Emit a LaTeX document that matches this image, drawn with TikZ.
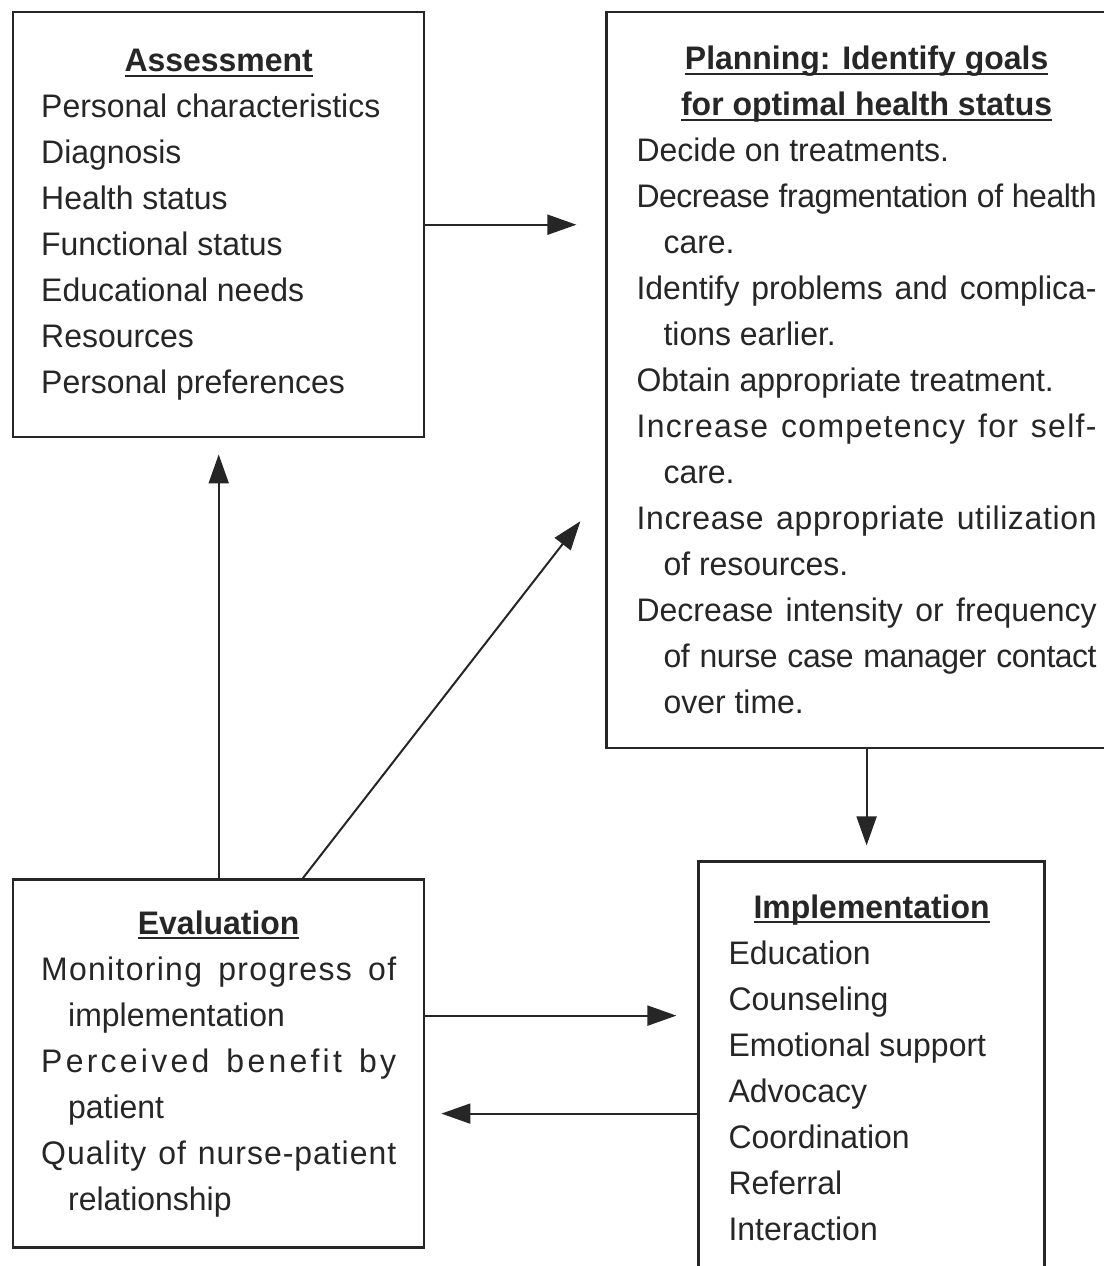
\documentclass[tikz,border=0pt]{standalone}
\usepackage{fontspec}
\setmainfont{Liberation Sans}[FakeStretch=0.98]
\usepackage{tikz}
\usetikzlibrary{positioning,arrows.meta,calc}
\definecolor{ink}{HTML}{262626}
\setlength{\parindent}{0pt}
\setlength{\parskip}{0pt}
\newsavebox{\headbox}
\newcommand{\headline}[1]{\leavevmode\sbox{\headbox}{#1}\rlap{\rule[-2.5pt]{\wd\headbox}{1pt}}\usebox{\headbox}}
\newcommand{\heading}[1]{{\centering\bfseries\headline{#1}\par}}
\newcommand{\hitem}[1]{\par\noindent\hangindent=13.5pt\hangafter=1 #1\par}
\newcommand{\spread}[2]{{\addfontfeature{LetterSpace=#1}#2}}
\tikzset{
  stage/.style   ={draw=ink, line width=1.2pt, text=ink, inner xsep=#1, inner ysep=0pt,
                   align=justify, font=\fontsize{16.3pt}{23pt}\selectfont},
  stage/.default =14pt,
  flowarr/.style ={-{Triangle[length=14.5pt,width=10pt]}, line width=1pt, draw=ink},
}

\begin{document}
\begin{tikzpicture}
\useasboundingbox (0,0) rectangle (552pt,-633pt);
\node[stage, anchor=north west, minimum width=205.5pt, text width=177.5pt, minimum height=212.5pt] (assess) at (6pt,-5.5pt) {%
\heading{Assessment}
\hitem{Personal characteristics}
\hitem{Diagnosis}
\hitem{Health status}
\hitem{Functional status}
\hitem{Educational needs}
\hitem{Resources}
\hitem{Personal preferences}};
\node[stage=15pt, right=90pt of assess.north east, anchor=north west, minimum width=260pt, text width=230pt, minimum height=368pt] (plan) {%
\heading{Planning: Identify goals}
\heading{for optimal health status}
\hitem{Decide on treatments.}
\hitem{\spread{-1.5}{Decrease fragmentation of health}\linebreak care.}
\hitem{Identify problems and complica-\linebreak tions earlier.}
\hitem{Obtain appropriate treatment.}
\hitem{\spread{4}{Increase competency for self-}\linebreak care.}
\hitem{\spread{2}{Increase appropriate utilization}\linebreak of resources.}
\hitem{Decrease intensity or frequency\linebreak \spread{-1.5}{of nurse case manager contact}\linebreak over time.}};
\node[stage, below=220pt of assess, minimum width=205.5pt, text width=177.5pt, minimum height=184pt] (eval) {%
\heading{Evaluation}
\hitem{\spread{4}{Monitoring progress of}\linebreak implementation}
\hitem{\spread{10}{Perceived benefit by}\linebreak patient}
\hitem{\spread{3}{Quality of nurse-patient}\linebreak relationship}};
\node[stage=15pt, below=55.5pt of plan, xshift=2.5pt, minimum width=173pt, text width=143pt, minimum height=206pt] (impl) {%
\heading{Implementation}
\hitem{Education}
\hitem{Counseling}
\hitem{Emotional support}
\hitem{Advocacy}
\hitem{Coordination}
\hitem{Referral}
\hitem{Interaction}};

\coordinate (fwd) at ([yshift=24pt]eval.east);
\coordinate (back) at ([yshift=-25pt]eval.east);

\draw[flowarr, shorten >=14.5pt] (assess.east) -- (assess.east -| plan.west);
\draw[flowarr, shorten >=8pt] (eval.north) -- (assess.south);
\draw[flowarr] ([xshift=42pt]eval.north) -- ([shift={(-12.5pt,-70.5pt)}]plan.west);
\draw[flowarr, shorten >=7.5pt] (plan.south) -- (plan.south |- impl.north);
\draw[flowarr, shorten >=10.5pt] (fwd) -- (fwd -| impl.west);
\draw[flowarr, shorten >=8pt] (back -| impl.west) -- (back);
\end{tikzpicture}
\end{document}
